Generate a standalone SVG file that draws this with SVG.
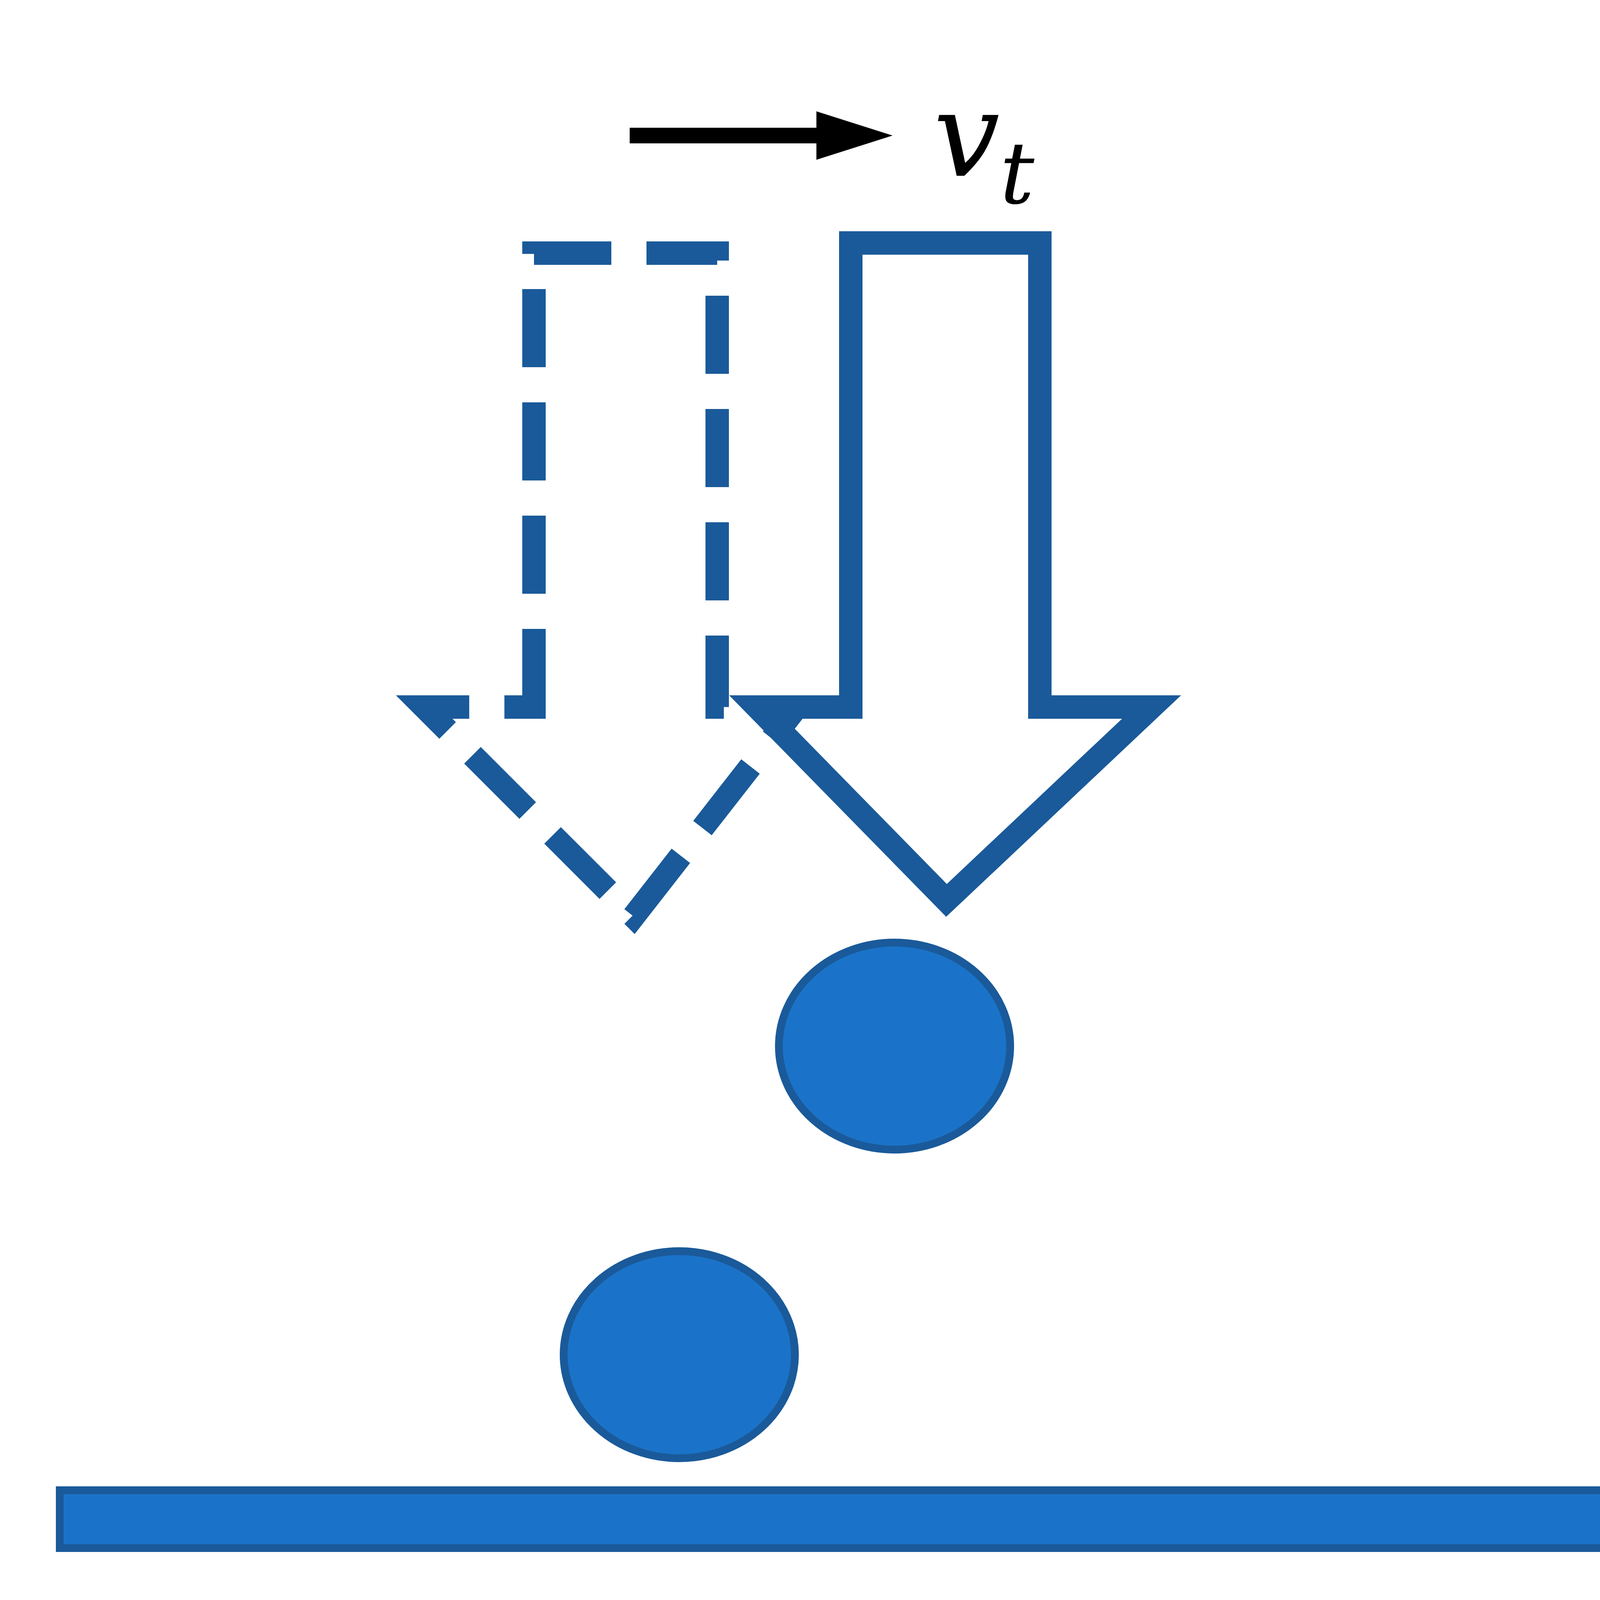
<svg xmlns="http://www.w3.org/2000/svg" width="7954" height="4450" viewBox="0 0 7954 4450">
<style>
.blob{fill:#1a73c8;stroke:#1a5a9a;stroke-width:20}
.cap{font-family:"Liberation Serif",serif;font-size:250px;text-anchor:middle}
</style>
<defs>
<marker id="dh" viewBox="0 0 10 10" refX="9" refY="5" markerWidth="5" markerHeight="5" orient="auto-start-reverse" markerUnits="strokeWidth"><path d="M0,0 L10,5 L0,10 Z" fill="#2a86e0"/></marker>
</defs>
<rect width="7954" height="4450" fill="#fff"/>
<g id="arrows-a">
<line x1="1612" y1="347" x2="2120" y2="347" stroke="#000" stroke-width="40"/>
<polygon points="2090,285 2285,347 2090,409" fill="#000"/>
<text x="2390" y="450" font-family="DejaVu Serif,serif" font-style="italic" font-size="300">v<tspan font-size="220" dy="70">t</tspan></text>
<path d="M1367,1810 L1367,648 L1836,648 L1836,1810 L2040,1810 L1622,2346 L1086,1810 Z" fill="none" stroke="#1a5a9a" stroke-width="60" stroke-dasharray="200,90"/>
<path d="M2178,1810 L2178,622 L2662,622 L2662,1810 L2948,1810 L2423,2305 L1938,1810 Z" fill="none" stroke="#1a5a9a" stroke-width="60"/>
</g>
<g id="drop1"><ellipse class="blob" cx="2290" cy="2678" rx="296" ry="265"/></g>
<g id="drop2"><ellipse class="blob" cx="1739" cy="3468" rx="296" ry="265"/></g>
<g id="substrate"><rect class="blob" x="153" y="3815" width="4590" height="148"/></g>
<text class="cap" x="2448" y="4290">(<tspan font-weight="bold">a</tspan>)</text>
<g id="drop3"><circle class="blob" cx="7471" cy="495" r="434"/></g>
<g id="drop4"><circle class="blob" cx="6926" cy="1403" r="434"/></g>
<g id="connectors">
<line x1="6916" y1="1479" x2="6916" y2="2999" stroke="#000" stroke-width="25"/>
<line x1="7492" y1="704" x2="7492" y2="2999" stroke="#000" stroke-width="25"/>
<line x1="6935" y1="2856" x2="7473" y2="2856" stroke="#2a86e0" stroke-width="20" marker-start="url(#dh)" marker-end="url(#dh)"/>
</g>
<text x="6990" y="3540" font-family="Liberation Serif,serif" font-size="330">D<tspan font-size="220" dy="60">c-c</tspan></text>
<text class="cap" x="7216" y="4290">(<tspan font-weight="bold">b</tspan>)</text>
</svg>
